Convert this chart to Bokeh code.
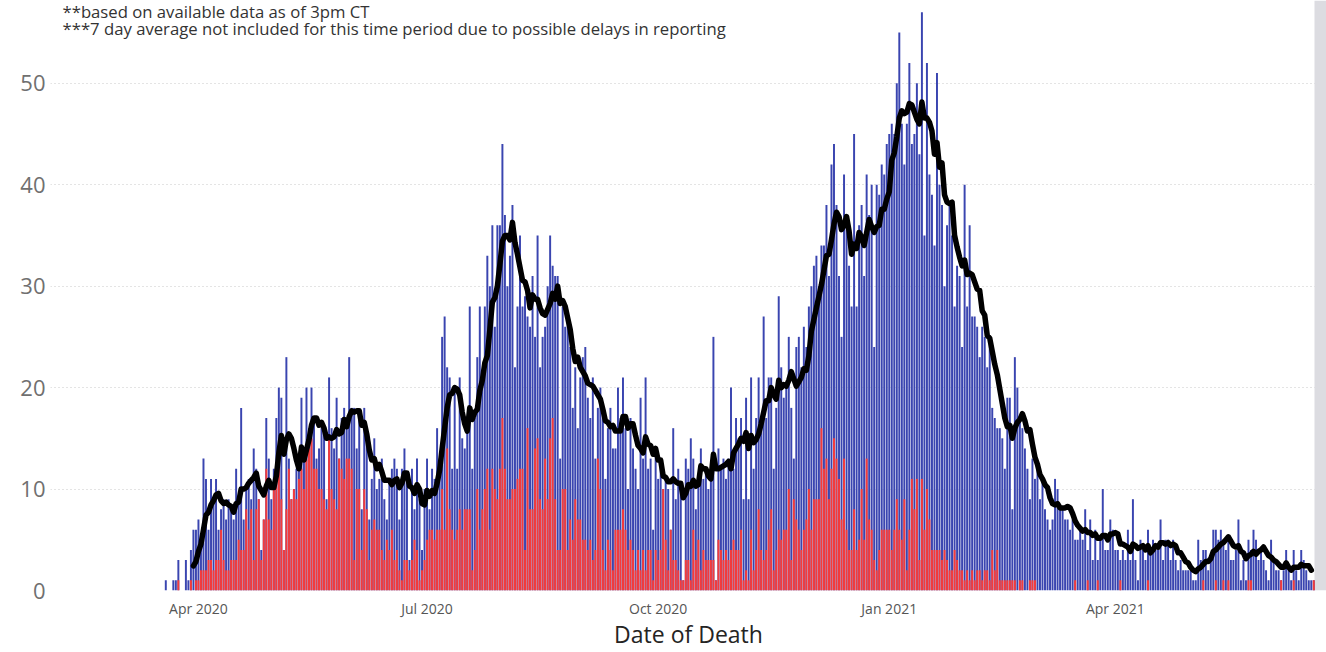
import pandas as pd
from bokeh.plotting import figure
from bokeh.models import FixedTicker, DatetimeTickFormatter, Range1d, ColumnDataSource, BoxAnnotation
from bokeh.embed import file_html
from bokeh.resources import INLINE
from bokeh.core.properties import value

# ---------------- data ----------------
start_date = "2020-03-19"

total_deaths = [
    1, 0, 0, 1, 1, 3, 0,
    0, 3, 1, 4, 6, 6, 7,
    5, 13, 11, 6, 11, 9, 11,
    6, 8, 9, 7, 9, 8, 7,
    12, 9, 18, 7, 10, 11, 9,
    14, 12, 9, 4, 7, 17, 13,
    9, 12, 17, 20, 19, 4, 23,
    13, 9, 10, 12, 13, 19, 14,
    20, 16, 20, 17, 13, 14, 16,
    16, 9, 21, 16, 14, 19, 13,
    17, 18, 16, 23, 18, 18, 14,
    17, 8, 18, 15, 7, 11, 15,
    10, 11, 13, 9, 7, 11, 12,
    13, 12, 7, 12, 14, 11, 3,
    12, 8, 13, 9, 4, 10, 13,
    8, 12, 11, 16, 13, 25, 27,
    22, 21, 12, 20, 12, 21, 15,
    14, 16, 28, 12, 17, 23, 28,
    21, 28, 33, 30, 36, 26, 36,
    36, 44, 37, 30, 33, 38, 22,
    28, 35, 28, 29, 27, 26, 31,
    25, 35, 22, 25, 26, 30, 35,
    32, 31, 31, 13, 28, 26, 27,
    24, 18, 22, 16, 21, 23, 24,
    19, 17, 21, 13, 18, 20, 17,
    11, 16, 18, 14, 14, 20, 17,
    21, 16, 10, 17, 14, 12, 10,
    19, 13, 21, 12, 13, 6, 14,
    11, 13, 10, 11, 10, 6, 16,
    9, 12, 10, 1, 13, 12, 15,
    13, 8, 11, 14, 11, 12, 10,
    11, 25, 1, 14, 12, 13, 11,
    13, 20, 12, 17, 15, 17, 9,
    19, 9, 21, 12, 17, 21, 16,
    27, 17, 21, 21, 12, 18, 29,
    22, 19, 20, 25, 18, 13, 24,
    25, 22, 26, 24, 28, 30, 32,
    33, 30, 34, 34, 38, 31, 42,
    44, 38, 31, 25, 41, 37, 32,
    28, 45, 28, 36, 38, 31, 41,
    37, 40, 24, 40, 39, 42, 41,
    44, 45, 46, 45, 50, 55, 46,
    42, 46, 52, 44, 45, 50, 43,
    57, 35, 52, 41, 39, 34, 51,
    40, 38, 30, 36, 38, 35, 28,
    32, 31, 24, 40, 28, 36, 27,
    27, 26, 23, 26, 25, 22, 25,
    18, 17, 16, 16, 15, 12, 19,
    19, 8, 23, 20, 17, 16, 14,
    12, 9, 13, 11, 12, 9, 11,
    8, 7, 6, 7, 11, 10, 8,
    8, 7, 7, 6, 7, 5, 5,
    6, 5, 8, 4, 7, 3, 6,
    3, 5, 10, 4, 4, 7, 6,
    4, 4, 3, 4, 3, 6, 3,
    9, 3, 1, 5, 4, 3, 6,
    4, 5, 4, 4, 7, 3, 5,
    5, 3, 5, 3, 2, 3, 2,
    2, 2, 2, 1, 1, 5, 3,
    4, 4, 2, 3, 6, 6, 5,
    6, 5, 4, 5, 3, 3, 4,
    7, 1, 3, 1, 5, 4, 6,
    5, 3, 4, 3, 2, 1, 5,
    3, 2, 2, 1, 2, 4, 2,
    1, 4, 2, 1, 4, 3, 2,
    1, 1, 1,
]

red_deaths = [
    0, 0, 0, 0, 0, 1, 0,
    0, 0, 0, 1, 0, 1, 1,
    2, 2, 2, 3, 3, 2, 3,
    3, 6, 3, 2, 2, 3, 3,
    3, 5, 4, 4, 8, 6, 8,
    3, 8, 9, 3, 7, 12, 7,
    6, 10, 12, 13, 9, 4, 8,
    12, 9, 10, 9, 11, 12, 10,
    13, 14, 15, 12, 12, 10, 10,
    9, 8, 15, 10, 9, 8, 13,
    12, 11, 13, 13, 12, 3, 10,
    10, 4, 10, 8, 3, 6, 7,
    6, 6, 4, 3, 5, 4, 6,
    3, 4, 2, 1, 3, 3, 2,
    3, 5, 4, 1, 2, 3, 5,
    6, 6, 5, 6, 6, 10, 6,
    14, 8, 6, 5, 6, 8, 6,
    8, 8, 8, 2, 4, 10, 6,
    8, 10, 12, 6, 12, 10, 9,
    12, 17, 12, 9, 9, 10, 10,
    11, 12, 12, 4, 16, 8, 8,
    14, 15, 9, 8, 13, 9, 15,
    17, 9, 4, 4, 10, 10, 4,
    7, 5, 9, 7, 7, 5, 5,
    4, 5, 3, 4, 13, 10, 4,
    2, 5, 4, 2, 6, 6, 6,
    8, 6, 4, 5, 4, 2, 4,
    2, 4, 2, 4, 4, 1, 4,
    3, 4, 10, 5, 2, 6, 3,
    3, 2, 1, 1, 3, 3, 1,
    6, 3, 5, 2, 4, 3, 3,
    3, 3, 1, 5, 4, 3, 4,
    3, 4, 5, 4, 4, 6, 1,
    2, 1, 6, 2, 4, 8, 4,
    3, 4, 6, 8, 2, 4, 6,
    5, 6, 6, 10, 3, 9, 7,
    6, 4, 6, 7, 10, 6, 9,
    9, 9, 16, 12, 13, 9, 12,
    15, 13, 11, 7, 13, 6, 4,
    4, 8, 4, 5, 10, 5, 13,
    7, 6, 3, 2, 4, 6, 6,
    6, 6, 4, 6, 9, 6, 5,
    9, 2, 6, 11, 8, 11, 3,
    11, 6, 10, 7, 4, 4, 4,
    4, 3, 4, 3, 2, 2, 4,
    3, 2, 2, 1, 2, 1, 2,
    1, 2, 2, 1, 2, 2, 1,
    4, 2, 4, 1, 1, 1, 1,
    1, 1, 1, 0, 1, 1, 0,
    0, 1, 1, 1, 0, 0, 0,
    0, 0, 0, 0, 0, 0, 0,
    0, 0, 0, 0, 0, 1, 0,
    0, 0, 0, 1, 0, 0, 0,
    1, 0, 0, 0, 0, 0, 0,
    0, 0, 1, 0, 0, 0, 0,
    0, 0, 0, 0, 0, 0, 1,
    0, 0, 0, 0, 0, 0, 0,
    0, 0, 0, 0, 0, 0, 0,
    0, 0, 0, 0, 0, 0, 0,
    1, 0, 0, 0, 0, 1, 0,
    0, 1, 0, 1, 0, 0, 0,
    0, 0, 0, 0, 1, 1, 0,
    0, 0, 0, 0, 0, 0, 0,
    0, 0, 0, 1, 0, 0, 0,
    0, 1, 0, 0, 0, 0, 0,
    0, 0, 1,
]

avg_start_date = "2020-03-30"
avg_end_date = "2021-06-18"

tick_dates = ["2020-04-01", "2020-07-01", "2020-10-01", "2021-01-01", "2021-04-01"]
y_ticks = [0, 10, 20, 30, 40, 50]
notes = [
    "**based on available data as of 3pm CT",
    "***7 day average not included for this time period due to possible delays in reporting",
]
x_title = "Date of Death"

assert len(total_deaths) == len(red_deaths)

# ---------------- derived ----------------
dates = pd.date_range(start_date, periods=len(total_deaths), freq="D")
avg = pd.Series(total_deaths, index=dates, dtype=float).rolling(7).mean()
avg = avg[avg_start_date:avg_end_date]

src = ColumnDataSource(dict(date=dates, total=total_deaths, red=red_deaths))
avg_src = ColumnDataSource(dict(date=avg.index, avg=avg.values))

# ---------------- layout constants ----------------
W, H = 1326, 652
LEFT = 50                 # frame left border (px)
BOTTOM = 60               # frame bottom border (px)
PX_PER_DAY = 2.512
PX_PER_UNIT = 10.18
frame_w = W - LEFT
frame_h = H - BOTTOM
first_bar_px = 165.3 - LEFT   # first bar centre inside frame
x0 = pd.Timestamp(start_date) - pd.Timedelta(days=first_bar_px / PX_PER_DAY)
x1 = x0 + pd.Timedelta(days=frame_w / PX_PER_DAY)
y1 = frame_h / PX_PER_UNIT

p = figure(width=W, height=H, x_axis_type="datetime", output_backend="svg",
           toolbar_location=None, title=None,
           x_range=Range1d(x0, x1), y_range=Range1d(0, y1),
           min_border_left=LEFT, min_border_right=0, min_border_top=0,
           min_border_bottom=BOTTOM)
p.outline_line_color = None
p.background_fill_color = "white"
p.border_fill_color = "white"

day_ms = 86400000
p.vbar(x="date", top="total", width=0.78 * day_ms, source=src,
       fill_color="#3A45B0", line_color=None)
p.vbar(x="date", top="red", width=0.78 * day_ms, source=src,
       fill_color="#F53B3B", line_color=None)
p.line(x="date", y="avg", source=avg_src, line_color="black", line_width=5.5,
       line_join="round", line_cap="round")

# grey band at the right edge
band_left = x0 + pd.Timedelta(days=(1314 - LEFT) / PX_PER_DAY)
p.add_layout(BoxAnnotation(left=band_left, fill_color="#dcdce1", fill_alpha=1.0,
                           line_color=None, level="underlay"))

# notes at the top
note_x = x0 + pd.Timedelta(days=(62 - LEFT) / PX_PER_DAY)
note_page_y = [11, 28]
note_y = [y1 - py / PX_PER_UNIT for py in note_page_y]
p.text(x=[note_x, note_x], y=note_y, text=notes, text_font=value("Open Sans"),
       text_font_size="16.7px", text_color="#333333", text_align="left",
       text_baseline="middle")

# axes
p.xgrid.grid_line_color = None
p.ygrid.grid_line_color = "#c8c8c8"
p.ygrid.grid_line_dash = "1 3"
p.ygrid.grid_line_width = 1

p.yaxis.ticker = FixedTicker(ticks=y_ticks)
p.yaxis.axis_line_color = None
p.yaxis.major_tick_line_color = None
p.yaxis.minor_tick_line_color = None
p.yaxis.major_tick_out = 0
p.yaxis.major_label_text_font = "Open Sans"
p.yaxis.major_label_text_font_size = "22px"
p.yaxis.major_label_text_color = "#707070"
p.yaxis.major_label_standoff = 5

tick_ms = [pd.Timestamp(d).value // 10**6 for d in tick_dates]
p.xaxis.ticker = FixedTicker(ticks=tick_ms)
p.xaxis.formatter = DatetimeTickFormatter(days="%b %Y", months="%b %Y", years="%b %Y")
p.xaxis.axis_line_color = None
p.xaxis.major_tick_line_color = None
p.xaxis.minor_tick_line_color = None
p.xaxis.major_tick_out = 0
p.xaxis.major_tick_in = 0
p.xaxis.major_label_text_font = "Open Sans"
p.xaxis.major_label_text_font_size = "14px"
p.xaxis.major_label_text_color = "#555555"
p.xaxis.major_label_standoff = 8
p.xaxis.axis_label = x_title
p.xaxis.axis_label_text_font = "Open Sans"
p.xaxis.axis_label_text_font_size = "23px"
p.xaxis.axis_label_text_font_style = "normal"
p.xaxis.axis_label_text_color = "#252423"
p.xaxis.axis_label_standoff = -3

open("out.html", "w").write(file_html(p, INLINE))
